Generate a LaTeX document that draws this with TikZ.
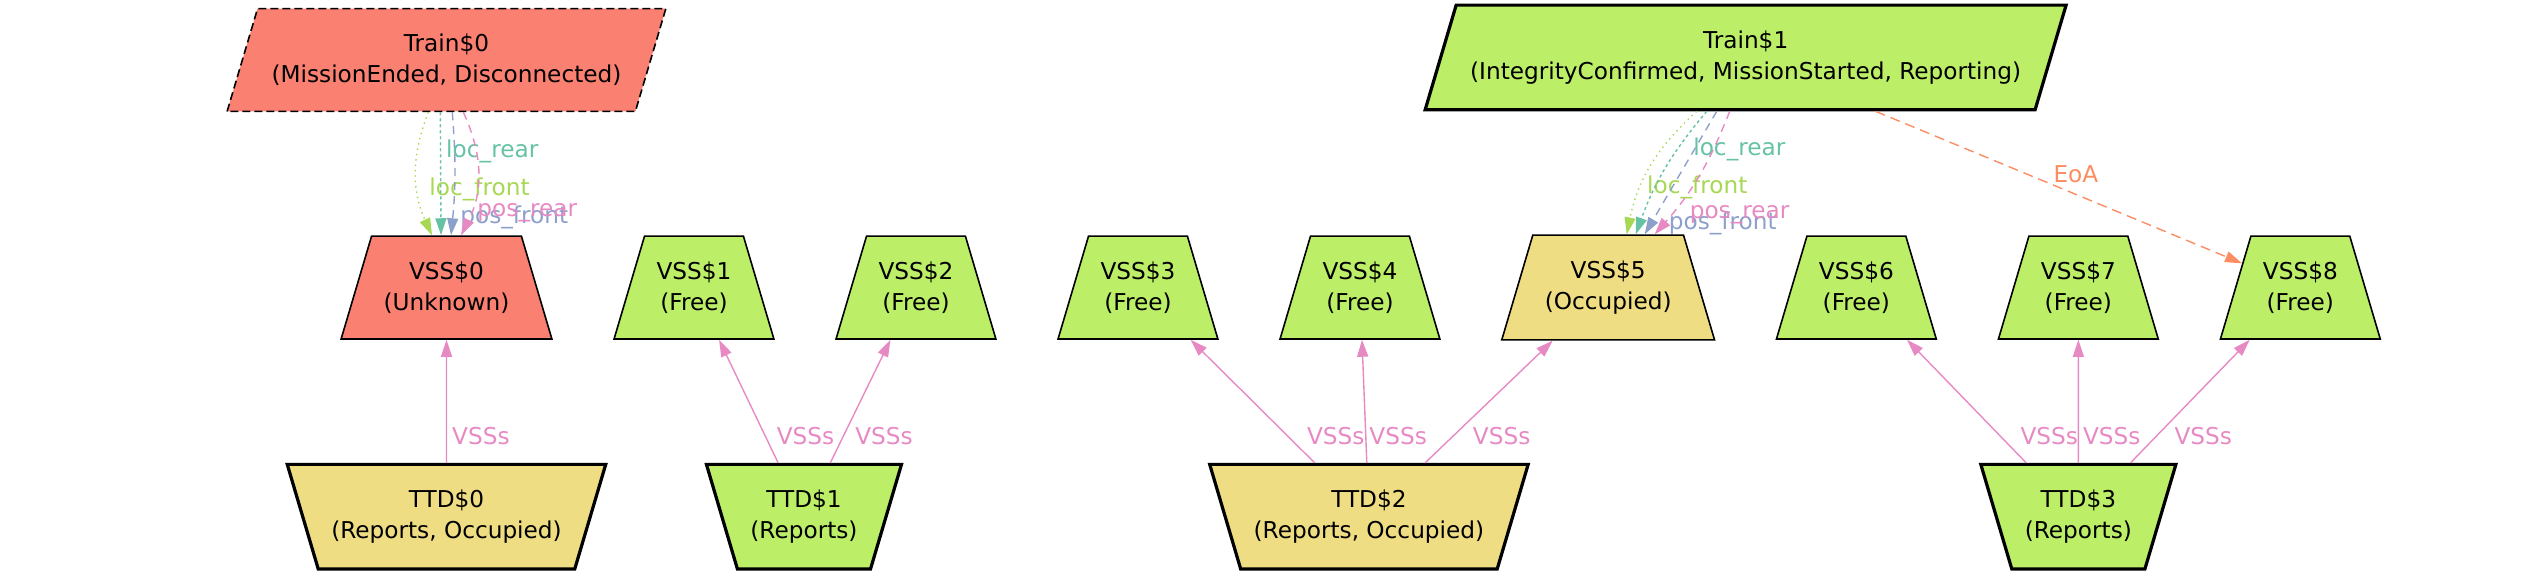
\documentclass[tikz,border=0pt]{standalone}
\usepackage{fontspec}
\setmainfont{DejaVu Sans}
\usepackage{xcolor}
\usepackage{tikz}
\usetikzlibrary{arrows.meta,positioning,shapes.geometric}
\definecolor{badred}{RGB}{250,128,114}
\definecolor{freegreen}{RGB}{188,238,104}
\definecolor{occyellow}{RGB}{238,221,130}
\definecolor{setteal}{RGB}{102,194,165}
\definecolor{setorange}{RGB}{252,141,98}
\definecolor{setblue}{RGB}{141,160,203}
\definecolor{setpink}{RGB}{231,138,195}
\definecolor{setgreen}{RGB}{166,216,84}
\tikzset{
  train/.style={draw=black, line width=1.6pt, trapezium, trapezium left angle=73.5,
    trapezium right angle=106.5, align=center, inner xsep=7pt, inner ysep=12.8pt},
  vss/.style={draw=black, line width=0.8pt, trapezium, trapezium left angle=73.5,
    trapezium right angle=73.5, fill=freegreen, align=center, inner xsep=6pt, inner ysep=12.8pt},
  ttd/.style={draw=black, line width=1.6pt, trapezium, trapezium left angle=106.5,
    trapezium right angle=106.5, fill=freegreen, align=center, inner xsep=6.5pt, inner ysep=12.8pt},
  arr/.style={line width=0.7pt, -{Triangle[length=8.5pt,width=5.5pt]}},
  lbl/.style={inner sep=1pt},
  % Kanten
  has/.style={arr, draw=setpink},
  lfront/.style={arr, draw=setgreen, dash pattern=on 0.7pt off 2pt},
  lrear/.style={arr, draw=setteal, dash pattern=on 1.5pt off 1.5pt},
  pfront/.style={arr, draw=setblue, dash pattern=on 4pt off 3pt},
  prear/.style={arr, draw=setpink, dash pattern=on 4pt off 3pt},
  eoa/.style={arr, draw=setorange, dash pattern=on 5pt off 3pt}
}
\begin{document}
\begin{tikzpicture}[x=0.5pt, y=0.5pt, font=\fontsize{11.6}{15.5}\selectfont,
    node distance=61.5pt and 45.5pt]
  \useasboundingbox (0,0) rectangle (2546,-575);
  % VSS
  \node[vss, fill=badred] (vss0) at (446.5,-287.5) {VSS\$0\\(Unknown)};
  \node[vss, right=of vss0] (vss1) {VSS\$1\\(Free)};
  \node[vss, right=of vss1] (vss2) {VSS\$2\\(Free)};
  \node[vss, right=of vss2] (vss3) {VSS\$3\\(Free)};
  \node[vss, right=of vss3] (vss4) {VSS\$4\\(Free)};
  \node[vss, fill=occyellow, right=of vss4] (vss5) {VSS\$5\\(Occupied)};
  \node[vss, right=of vss5] (vss6) {VSS\$6\\(Free)};
  \node[vss, right=of vss6] (vss7) {VSS\$7\\(Free)};
  \node[vss, right=of vss7] (vss8) {VSS\$8\\(Free)};
  % Zuege
  \node[train, fill=badred, line width=0.8pt, dash pattern=on 4pt off 2pt, above=of vss0] (train0)
    {Train\$0\\(MissionEnded, Disconnected)};
  \node[train, fill=freegreen, above=of vss5, xshift=68.75pt] (train1)
    {Train\$1\\(IntegrityConfirmed, MissionStarted, Reporting)};
  % TTD
  \node[ttd, fill=occyellow, below=of vss0] (ttd0) {TTD\$0\\(Reports, Occupied)};
  \node[ttd, below=of vss1, xshift=55pt] (ttd1) {TTD\$1\\(Reports)};
  \node[ttd, fill=occyellow, below=of vss4, xshift=4.5pt] (ttd2) {TTD\$2\\(Reports, Occupied)};
  \node[ttd, below=of vss7] (ttd3) {TTD\$3\\(Reports)};

  \draw[has] (ttd0) -- node[lbl, pos=0.22, right=1.5pt, text=setpink] {VSSs} (vss0);
  \draw[has] (ttd1) -- node[lbl, pos=0.22, right=4.5pt, text=setpink] {VSSs} (vss1);
  \draw[has] (ttd1) -- node[lbl, pos=0.22, right=4.5pt, text=setpink] {VSSs} (vss2);
  \draw[has] (ttd2) -- node[lbl, pos=0.22, right=8.5pt, text=setpink] {VSSs} (vss3);
  \draw[has] (ttd2) -- node[lbl, pos=0.22, right=0.5pt, text=setpink] {VSSs} (vss4);
  \draw[has] (ttd2) -- node[lbl, pos=0.22, right=8.5pt, text=setpink] {VSSs} (vss5);
  \draw[has] (ttd3) -- node[lbl, pos=0.22, right=9pt, text=setpink] {VSSs} (vss6);
  \draw[has] (ttd3) -- node[lbl, pos=0.22, right=1pt, text=setpink] {VSSs} (vss7);
  \draw[has] (ttd3) -- node[lbl, pos=0.22, right=7.5pt, text=setpink] {VSSs} (vss8);

  \draw[lfront] ([xshift=-9.1pt]train0.south) to[bend right=23]
    node[lbl, pos=0.63, right=4.6pt, text=setgreen] {loc\_front} ([xshift=-7.25pt]vss0.north);
  \draw[lrear] ([xshift=-3.1pt]train0.south) to
    node[lbl, pos=0.32, right=1.5pt, text=setteal] {loc\_rear} ([xshift=-2.75pt]vss0.north);
  \draw[pfront] ([xshift=2.9pt]train0.south) to[bend left=5]
    node[lbl, pos=0.87, right=2.5pt, text=setblue] {pos\_front} ([xshift=2.25pt]vss0.north);
  \draw[prear] ([xshift=8.4pt]train0.south) to[bend left=26]
    node[lbl, pos=0.82, right=2pt, text=setpink] {pos\_rear} ([xshift=7.25pt]vss0.north);

  \draw[lfront] ([xshift=-24.5pt]train1.south) to[bend right=18]
    node[lbl, pos=0.67, right=2pt, text=setgreen] {loc\_front} ([xshift=9.25pt]vss5.north);
  \draw[lrear] ([xshift=-19.5pt]train1.south) to[bend right=10]
    node[lbl, pos=0.32, right=6.5pt, text=setteal] {loc\_rear} ([xshift=13.75pt]vss5.north);
  \draw[pfront] ([xshift=-14.5pt]train1.south) to
    node[lbl, pos=0.91, right=7.5pt, text=setblue] {pos\_front} ([xshift=18.25pt]vss5.north);
  \draw[prear] ([xshift=-8pt]train1.south) to[bend left=10]
    node[lbl, pos=0.84, right=8pt, text=setpink] {pos\_rear} ([xshift=23.25pt]vss5.north);

  \draw[eoa] (train1) -- node[lbl, midway, above right=1pt and -4pt, text=setorange] {EoA} (vss8);
\end{tikzpicture}
\end{document}
